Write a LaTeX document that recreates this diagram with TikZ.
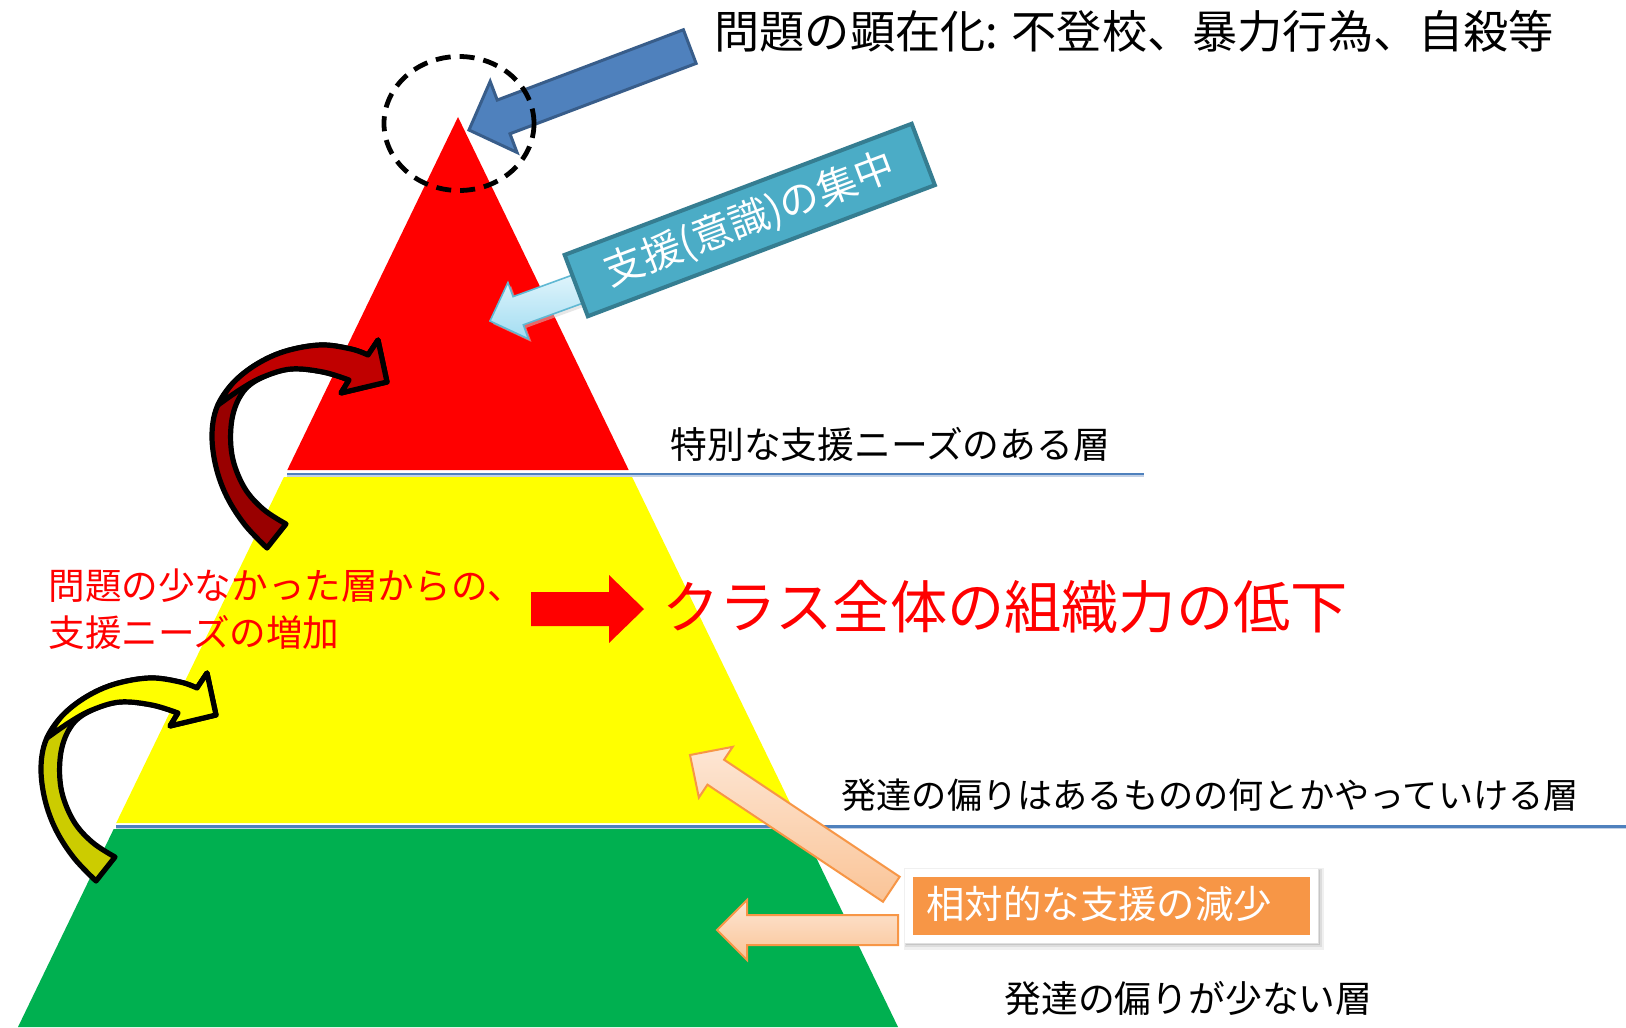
\documentclass[tikz,border=0pt]{standalone}
\usepackage{fontspec}
\setmainfont{Noto Sans CJK JP}
\definecolor{pyrred}{HTML}{FF0000}
\definecolor{pyryellow}{HTML}{FFFF00}
\definecolor{pyrgreen}{HTML}{00B050}
\definecolor{lineblue}{HTML}{4F81BD}
\definecolor{lineshadow}{HTML}{C3D1E6}
\definecolor{bluefill}{HTML}{4F81BD}
\definecolor{bluedraw}{HTML}{385D8A}
\definecolor{tealfill}{HTML}{4BACC6}
\definecolor{tealdraw}{HTML}{357D91}
\definecolor{ltblueA}{HTML}{E4F6FC}
\definecolor{ltblueB}{HTML}{A3DDF2}
\definecolor{ltbluedraw}{HTML}{5FB8D3}
\definecolor{peachA}{HTML}{FDE6D4}
\definecolor{peachB}{HTML}{FAC497}
\definecolor{peachdraw}{HTML}{F79646}
\definecolor{orangebox}{HTML}{F79646}
\definecolor{darkred}{HTML}{990000}
\definecolor{midred}{HTML}{C00000}
\definecolor{darkyellow}{HTML}{CCCC00}
\definecolor{brightyellow}{HTML}{FFFF00}

\newcommand\barrowpath[4]{(0,0) -- (#4,#3/2) -- (#4,#2/2) -- (#1,#2/2) -- (#1,-#2/2) -- (#4,-#2/2) -- (#4,-#3/2) -- cycle}

\newcommand\curvedarrowshape[3]{%
  \begin{scope}[shift={#1}]
    \filldraw[curvestyle, fill=#2] (96,881) -- plot[smooth,tension=0.6] coordinates {(96,881) (74,858) (56,830) (45,800) (41,768) (46,740) (62,716) (86,697) (115,684) (150,678) (180,682) (197,688)} -- (207,673) -- (216,715) -- (170,726) -- plot[smooth,tension=0.6] coordinates {(178,713) (152,705) (120,702) (92,710) (72,725) (61,752) (61,788) (73,820) (92,842) (115,857)} -- cycle;
    \filldraw[curvestyle, fill=#3] (47,738) -- plot[smooth,tension=0.6] coordinates {(47,738) (62,716) (86,697) (115,684) (150,678) (180,682) (197,688)} -- (207,673) -- (216,715) -- (170,726) -- plot[smooth,tension=0.6] coordinates {(178,713) (152,705) (120,702) (92,710) (70,722) (47,738)} -- cycle;
  \end{scope}}

\tikzset{
  bandline/.style={draw=lineblue, line width=1.1pt},
  bandshadow/.style={draw=lineshadow, line width=0.9pt},
  curvestyle/.style={draw=black, line width=2.6pt, line join=round},
  layertext/.style={anchor=west, inner sep=0pt, text=black},
}

\begin{document}
\begin{tikzpicture}[x=0.5pt,y=-0.5pt]
\useasboundingbox (0,0) rectangle (1626,1027);
\fill[white] (0,0) rectangle (1626,1027);

% pyramid bands
\fill[pyrred] (458,117) -- (628.7,470) -- (287.3,470) -- cycle;
\fill[pyryellow] (283.9,477) -- (632.1,477) -- (799.8,823) -- (116.2,823) -- cycle;
\fill[pyrgreen] (113.7,829) -- (802.3,829) -- (898,1027) -- (18,1027) -- cycle;

% separator lines
\draw[bandshadow] (287,476) -- (1144,476);
\draw[bandline] (287,474) -- (1144,474);
\draw[bandshadow] (116,828.5) -- (1626,828.5);
\draw[bandline] (116,826.5) -- (1626,826.5);

% blue arrow to apex
\path[shift={(469,130)}, rotate=20.7, fill=bluefill, draw=bluedraw, line width=1.5pt, line join=miter] \barrowpath{236}{36}{76}{37};

% dashed circle round apex
\draw[black, line width=2.4pt, dash pattern=on 7.5pt off 4.5pt] (459,123.5) ellipse [x radius=37.5pt, y radius=33.5pt];

% light blue arrow and support box
\path[shift={(493,324)}, rotate=20, fill=black!18, opacity=0.5] \barrowpath{110}{30}{60}{30};
\path[shift={(490,321)}, rotate=20, top color=ltblueA, bottom color=ltblueB, draw=ltbluedraw, line width=0.8pt] \barrowpath{110}{30}{60}{30};
\node[rotate=20.7, fill=tealfill, draw=tealdraw, line width=2pt, minimum width=185.5pt, minimum height=32.8pt, inner sep=0pt, text=white, font=\fontsize{20}{24}\selectfont] (boxSupport) at (749.75,220) {支援(意識)の集中};

% curved arrows
\curvedarrowshape{(171,-333)}{darkred}{midred}
\curvedarrowshape{(0,0)}{darkyellow}{brightyellow}

% red block arrow
\path[shift={(644,609)}, rotate=180, fill=pyrred] \barrowpath{113}{34}{68}{35};

% peach arrows
\path[shift={(690,755)}, rotate=-33.7, top color=peachA, bottom color=peachB, draw=peachdraw, line width=1pt] \barrowpath{242}{30}{61}{31};
\path[shift={(717,930)}, top color=peachA, bottom color=peachB, draw=peachdraw, line width=1pt] \barrowpath{181}{30}{60}{30};

% orange box with white frame and soft shadow
\fill[black, opacity=0.06] (904,868) rectangle (1324,950);
\fill[black, opacity=0.08] (905,869) rectangle (1322,947);
\fill[black, opacity=0.10] (906,870) rectangle (1320,945);
\draw[black!12, line width=0.5pt] (905,869) rectangle (1318,943);
\node[fill=orangebox, draw=white, line width=4pt, minimum width=202.5pt, minimum height=33pt, inner sep=0pt] (boxDecrease) at (1111.5,906) {};
\node[layertext, text=white, font=\fontsize{19.2}{23}\selectfont] (boxText) at (926,904) {相対的な支援の減少};

% texts
\node[layertext, font=\fontsize{22.6}{27}\selectfont] (title) at (714,31) {問題の顕在化: 不登校、暴力行為、自殺等};
\node[layertext, font=\fontsize{18.4}{22}\selectfont] (lblTop) at (670,444) {特別な支援ニーズのある層};
\node[layertext, font=\fontsize{17.6}{21}\selectfont] (lblMid) at (841,795) {発達の偏りはあるものの何とかやっていける層};
\node[layertext, font=\fontsize{18.4}{22}\selectfont] (lblBot) at (1004,998) {発達の偏りが少ない層};
\node[layertext, text=pyrred, align=left, font=\fontsize{18.3}{23.5}\selectfont] (redNote) at (48,609.5) {問題の少なかった層からの、\\支援ニーズの増加};
\node[layertext, text=pyrred, font=\fontsize{28.6}{34}\selectfont] (bigNote) at (662,607) {クラス全体の組織力の低下};
\end{tikzpicture}
\end{document}
